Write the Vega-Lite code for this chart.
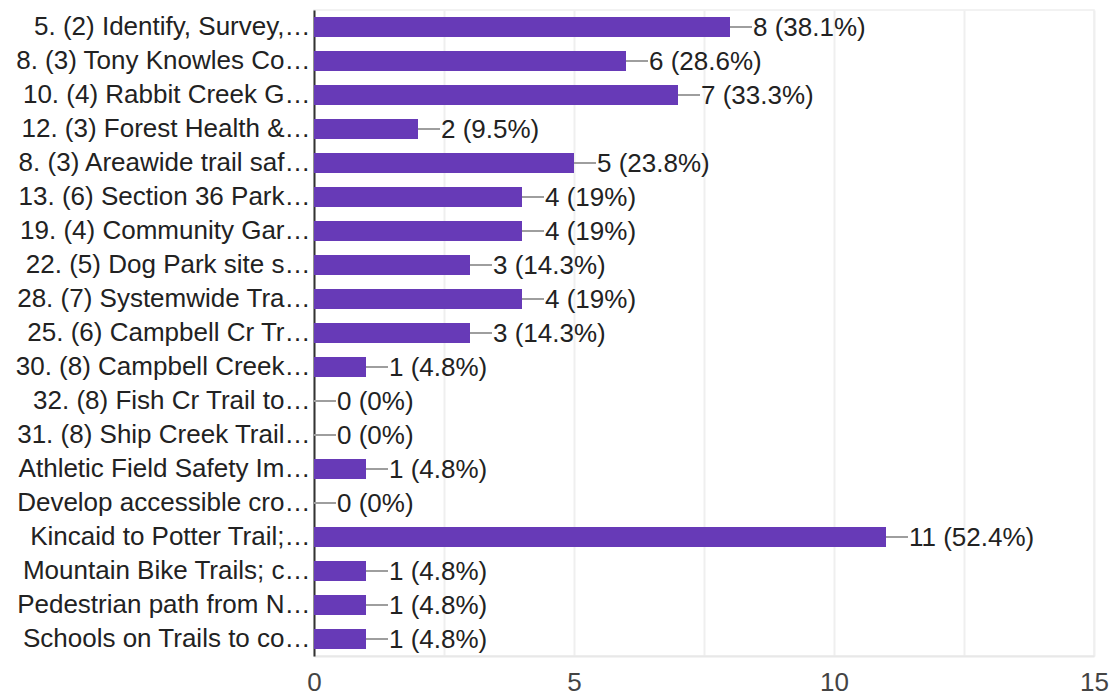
{
  "$schema": "https://vega.github.io/schema/vega-lite/v6.json",
  "autosize": "none",
  "padding": {"left": 314, "top": 10, "right": 18, "bottom": 40},
  "width": 780,
  "height": 646,
  "background": "white",
  "config": {
    "view": {"stroke": "#eeeeee", "strokeWidth": 1.5},
    "font": "Liberation Sans"
  },
  "data": {
    "values": [
      {"item": "5. (2) Identify, Survey,…", "count": 8, "label": "8 (38.1%)"},
      {"item": "8. (3) Tony Knowles Co…", "count": 6, "label": "6 (28.6%)"},
      {"item": "10. (4) Rabbit Creek G…", "count": 7, "label": "7 (33.3%)"},
      {"item": "12. (3) Forest Health &…", "count": 2, "label": "2 (9.5%)"},
      {"item": "8. (3) Areawide trail saf…", "count": 5, "label": "5 (23.8%)"},
      {"item": "13. (6) Section 36 Park…", "count": 4, "label": "4 (19%)"},
      {"item": "19. (4) Community Gar…", "count": 4, "label": "4 (19%)"},
      {"item": "22. (5) Dog Park site s…", "count": 3, "label": "3 (14.3%)"},
      {"item": "28. (7) Systemwide Tra…", "count": 4, "label": "4 (19%)"},
      {"item": "25. (6) Campbell Cr Tr…", "count": 3, "label": "3 (14.3%)"},
      {"item": "30. (8) Campbell Creek…", "count": 1, "label": "1 (4.8%)"},
      {"item": "32. (8) Fish Cr Trail to…", "count": 0, "label": "0 (0%)"},
      {"item": "31. (8) Ship Creek Trail…", "count": 0, "label": "0 (0%)"},
      {"item": "Athletic Field Safety Im…", "count": 1, "label": "1 (4.8%)"},
      {"item": "Develop accessible cro…", "count": 0, "label": "0 (0%)"},
      {"item": "Kincaid to Potter Trail;…", "count": 11, "label": "11 (52.4%)"},
      {"item": "Mountain Bike Trails; c…", "count": 1, "label": "1 (4.8%)"},
      {"item": "Pedestrian path from N…", "count": 1, "label": "1 (4.8%)"},
      {"item": "Schools on Trails to co…", "count": 1, "label": "1 (4.8%)"}
    ]
  },
  "encoding": {
    "y": {
      "field": "item",
      "type": "nominal",
      "sort": null,
      "scale": {"paddingInner": 0.41, "paddingOuter": 0.205},
      "axis": {
        "title": null,
        "labelFont": "Liberation Sans",
        "labelFontSize": 26,
        "labelColor": "#222222",
        "labelLimit": 0,
        "labelPadding": 4,
        "ticks": false,
        "domainColor": "#333333",
        "domainWidth": 2,
        "grid": false
      }
    }
  },
  "layer": [
    {
      "mark": {"type": "bar", "color": "#673ab7"},
      "encoding": {
        "x": {
          "field": "count",
          "type": "quantitative",
          "scale": {"domain": [0, 15], "nice": false},
          "axis": {
            "title": null,
            "values": [0, 2.5, 5, 7.5, 10, 12.5, 15],
            "labelExpr": "datum.value % 5 == 0 ? datum.label : ''",
            "labelFont": "Liberation Sans",
            "labelFontSize": 26,
            "labelColor": "#444444",
            "labelPadding": 13,
            "labelFlush": false,
            "ticks": false,
            "domainColor": "#e8e8e8",
            "domainWidth": 2,
            "gridColor": "#efefef",
            "gridWidth": 2
          }
        }
      }
    },
    {
      "mark": {"type": "rule", "color": "#9e9e9e", "strokeWidth": 2, "x2Offset": 22},
      "encoding": {
        "x": {"field": "count", "type": "quantitative"},
        "x2": {"field": "count"}
      }
    },
    {
      "mark": {"type": "text", "align": "left", "baseline": "middle", "dx": 23, "dy": 1, "fontSize": 26, "color": "#222222", "font": "Liberation Sans"},
      "encoding": {
        "x": {"field": "count", "type": "quantitative"},
        "text": {"field": "label"}
      }
    }
  ]
}
